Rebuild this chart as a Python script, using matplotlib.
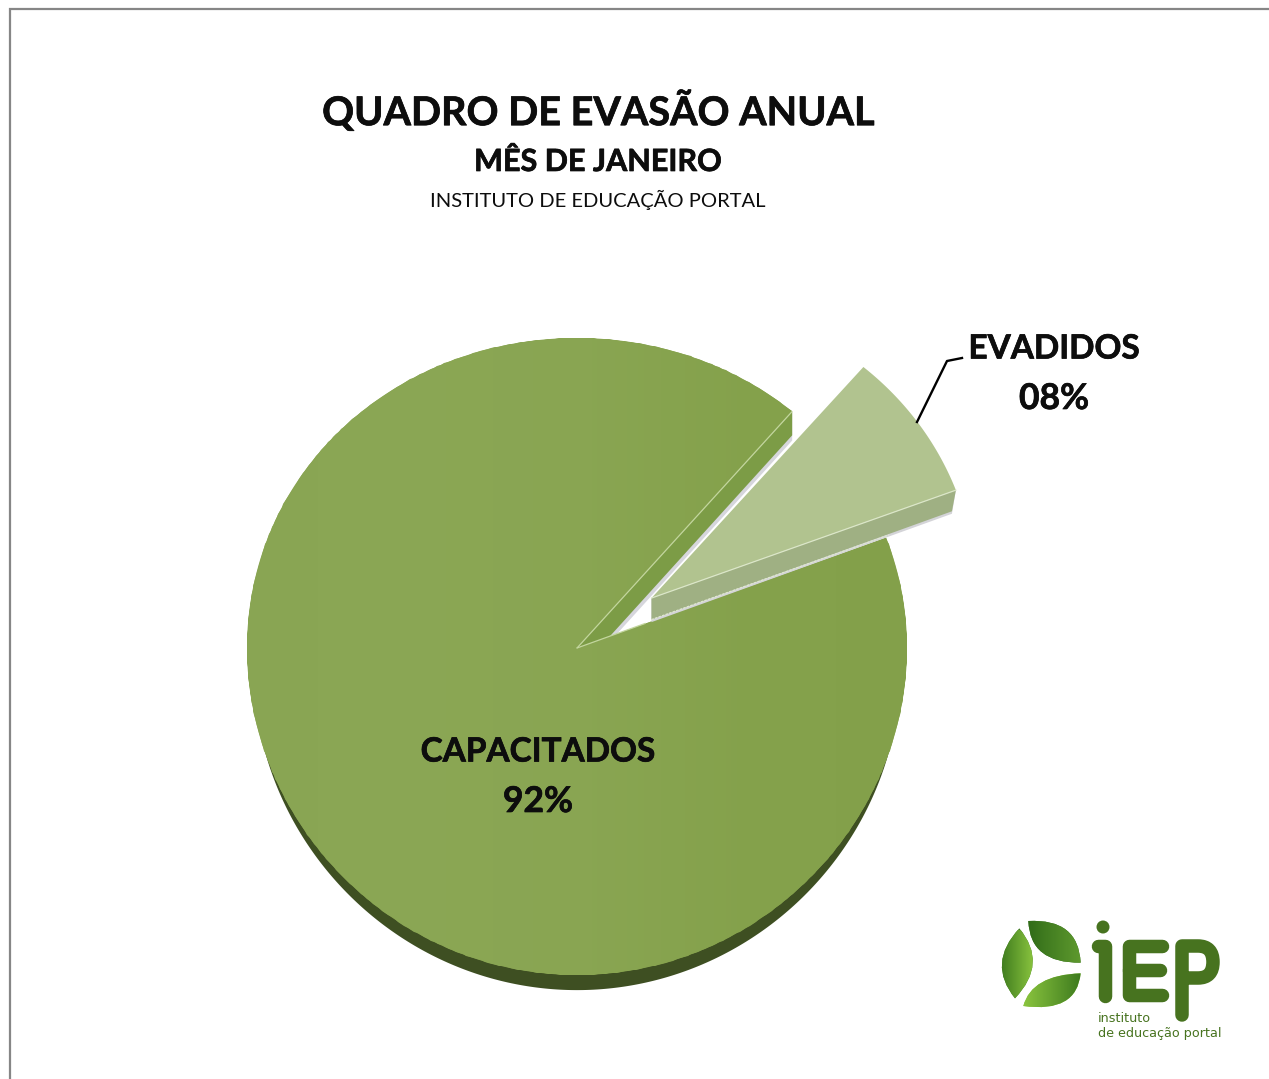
import numpy as np
import matplotlib
matplotlib.use("Agg")
import matplotlib.pyplot as plt
import matplotlib.patheffects as pe
from matplotlib.path import Path
from matplotlib.patches import PathPatch, Circle, Polygon
from matplotlib.colors import LinearSegmentedColormap

categories = ["CAPACITADOS", "EVADIDOS"]
values = [92, 8]
value_labels = ["92%", "08%"]
title = "QUADRO DE EVASÃO ANUAL"
subtitle = "MÊS DE JANEIRO"
source = "INSTITUTO DE EDUCAÇÃO PORTAL"

W, H = 1269, 1079
FONT = ["Lato", "DejaVu Sans"]
fig = plt.figure(figsize=(W / 100, H / 100), dpi=100, facecolor="white")

# Pie geometry: ellipse with slight perspective
CX, CY, RX = 577, 648, 330
A, B = 318.5, 8.5
def fwd(y):
    return np.asarray(y) * (A - B * np.asarray(y))
def inv(p):
    return (A - np.sqrt(np.maximum(A * A - 4 * B * np.asarray(p), 0))) / (2 * B)

ax = fig.add_axes([0, 0, 1, 1])
low_angle = 20.5
start = low_angle + values[1] / sum(values) * 360
explode = [0, 0.275]
EV_R = 0.985
EV_DEPTH = 0.068

def smooth(p):
    """Replace a wedge's coarse Bezier arc by a fine outline, so the perspective scale keeps it round."""
    t = np.deg2rad(np.linspace(p.theta1, p.theta2, 500))
    cx, cy = p.center
    v = np.column_stack([cx + p.r * np.cos(t), cy + p.r * np.sin(t)])
    v = np.vstack([[cx, cy], v, [cx, cy]])
    p._path = Path(v, closed=True)

def layer(dy, colors, zs, radius=1.0):
    w, _ = ax.pie(values, explode=explode, startangle=start, colors=colors,
                  radius=radius, center=(0, -dy), wedgeprops=dict(linewidth=0),
                  normalize=True)
    w[1].set_radius(EV_R)
    for p, zz in zip(w, zs):
        p.set_zorder(zz)
        smooth(p)
    return w

# Rim and side faces
rim = layer(0.065, ["#3e4f22", "#ffffff"], (1, 1), radius=0.98)
rim[1].set_visible(False)
th = np.deg2rad(start)
ex, ey = np.cos(th), np.sin(th)
for depth, col, zz in [(0.095, "#d6d6dc", 1.5), (0.078, "#7c9c46", 2)]:
    ax.add_patch(Polygon([(0, 0), (ex, ey), (ex, ey - depth), (0.07 * ex, 0.07 * ey - depth)],
                         closed=True, facecolor=col, edgecolor="none", zorder=zz))

# Evadidos side face: the extruded lower cut edge of the exploded wedge
tl = np.deg2rad(low_angle)
mid = np.deg2rad(low_angle + values[1] / sum(values) * 180)
ox, oy = 0.275 * np.cos(mid), 0.275 * np.sin(mid)
tipx, tipy = ox + EV_R * np.cos(tl), oy + EV_R * np.sin(tl)
for depth, col, zz in [(EV_DEPTH + 0.008, "#d4d4d8", 5.6), (EV_DEPTH, "#9fb083", 5.7)]:
    ax.add_patch(Polygon([(ox, oy), (tipx, tipy), (tipx - 0.012, tipy - depth), (ox, oy - depth)],
                         closed=True, facecolor=col, edgecolor="none", zorder=zz))

# Top faces
top = layer(0, ["#87a34f", "#b1c38f"], (5, 5.8))

# Subtle horizontal gradient clipped to the main face
cm_main = LinearSegmentedColormap.from_list("m", ["#89a553", "#8aa654", "#89a552", "#84a14b", "#83a04a"])
xs = np.linspace(-1.05, 1.05, 120)
ys = np.array([-1.2, 1.2])
mesh = ax.pcolormesh(xs, ys, xs[:-1][None, :], cmap=cm_main, shading="flat", zorder=5.5, rasterized=True)
mesh.set_clip_path(top[0])

# Highlight lines on cut edges
ax.plot([0, ex], [0, ey], color="#c3d69e", lw=0.9, zorder=6, solid_capstyle="butt")
ax.plot([0, 0.22 * np.cos(tl)], [0, 0.22 * np.sin(tl)], color="#c3d69e", lw=0.9, zorder=5.55)
ax.plot([ox, tipx], [oy, tipy], color="#dbe6c8", lw=0.9, zorder=6)
ax.plot([ox, ox + EV_R * 0.78 * np.cos(tl)],
        [oy - EV_DEPTH, oy - EV_DEPTH + EV_R * 0.78 * np.sin(tl)],
        color="#dfe8cf", lw=0.9, ls=(0, (2, 1)), zorder=6)

ax.set_aspect("auto")
ax.set_yscale("function", functions=(fwd, inv))
ax.set_xlim(-CX / RX, (W - CX) / RX)
ax.set_ylim(float(inv(CY - H)), float(inv(CY)))
ax.axis("off")

# Overlay in pixel coordinates for text, frame and logo
ov = fig.add_axes([0, 0, 1, 1], facecolor="none")
ov.set_xlim(0, W)
ov.set_ylim(H, 0)
ov.axis("off")

ov.plot([10, 10, W], [H, 9, 9], color="#868686", lw=1.6, solid_joinstyle="miter", solid_capstyle="butt")

bold = [pe.withStroke(linewidth=0.5, foreground="#0d0d0d")]
ov.text(599, 111, title, fontsize=28.5, fontweight="bold", family=FONT, ha="center", va="center",
        color="#0d0d0d", path_effects=bold)
ov.text(598, 162, subtitle, fontsize=22, fontweight="bold", family=FONT, ha="center", va="center",
        color="#0d0d0d", path_effects=bold)
ov.text(598, 200, source, fontsize=14.5, family=FONT, ha="center", va="center", color="#0d0d0d")

label_pos = [(538, 752), (1054, 349)]
for (lx, ly), c, v in zip(label_pos, categories, value_labels):
    ov.text(lx, ly, c, fontsize=24, fontweight="bold", family=FONT, ha="center", va="center",
            color="#0d0d0d", path_effects=bold)
    ov.text(lx, ly + 50, v, fontsize=25.5, fontweight="bold", family=FONT, ha="center", va="center",
            color="#0d0d0d", path_effects=bold)

# Leader line
ov.plot([917, 947, 962], [422, 361, 358], color="black", lw=1.7, solid_joinstyle="round", zorder=7)

# Logo: leaves
def z(x, y):
    return (980 + x / 3, 900 + y / 3)

def leaf(p0, c1, p1, c2, cm_cols, ext):
    P = [z(*p0), z(*c1), z(*p1), z(*c2), z(*p0)]
    path = Path(P, [Path.MOVETO, Path.CURVE3, Path.CURVE3, Path.CURVE3, Path.CURVE3])
    patch = PathPatch(path, facecolor=cm_cols[0], edgecolor="none", zorder=8)
    ov.add_patch(patch)
    cm = LinearSegmentedColormap.from_list("l", cm_cols)
    g = np.linspace(0, 1, 64)[None, :]
    im = ov.imshow(g, extent=ext, cmap=cm, aspect="auto", zorder=8.5)
    im.set_clip_path(patch)

leaf((118, 85), (205, 190), (105, 295), (20, 190), ["#3d7a1e", "#8cc63f"], (1000, 1035, 1010, 930))
leaf((145, 63), (295, 55), (302, 188), (150, 190), ["#2f6a18", "#5f9a2e"], (1025, 1082, 970, 918))
leaf((302, 220), (290, 340), (130, 318), (155, 225), ["#8cc63f", "#3d7a1e"], (1022, 1082, 1010, 970))
ov.set_xlim(0, W)
ov.set_ylim(H, 0)

# Logo: letters as rounded strokes
G = "#47731f"
LW = 13.5 * 0.72
ov.add_patch(Circle((1103, 927), 6.5, facecolor=G, edgecolor="none", zorder=8))
def stroke(xs_, ys_):
    ov.plot(xs_, ys_, color=G, lw=LW, solid_capstyle="round", solid_joinstyle="round", zorder=8)
stroke([1098, 1105, 1105], [946, 946, 996])
stroke([1162, 1129, 1129, 1162], [946, 946, 995, 995])
stroke([1129, 1160], [970, 970])
pbowl = Path([(1182, 1015), (1182, 946), (1198, 946), (1213, 946), (1213, 962),
              (1213, 978), (1198, 978), (1188, 978)],
             [Path.MOVETO, Path.LINETO, Path.LINETO, Path.CURVE3, Path.CURVE3,
              Path.CURVE3, Path.CURVE3, Path.LINETO])
ov.add_patch(PathPatch(pbowl, fill=False, edgecolor=G, lw=LW, capstyle="round", joinstyle="round", zorder=8))
ov.text(1098, 1018, "instituto", fontsize=9.2, family="DejaVu Sans", color=G, ha="left", va="center", zorder=8)
ov.text(1098, 1033, "de educação portal", fontsize=9.2, family="DejaVu Sans", color=G, ha="left", va="center", zorder=8)

fig.savefig("out.png", dpi=100, facecolor="white")
